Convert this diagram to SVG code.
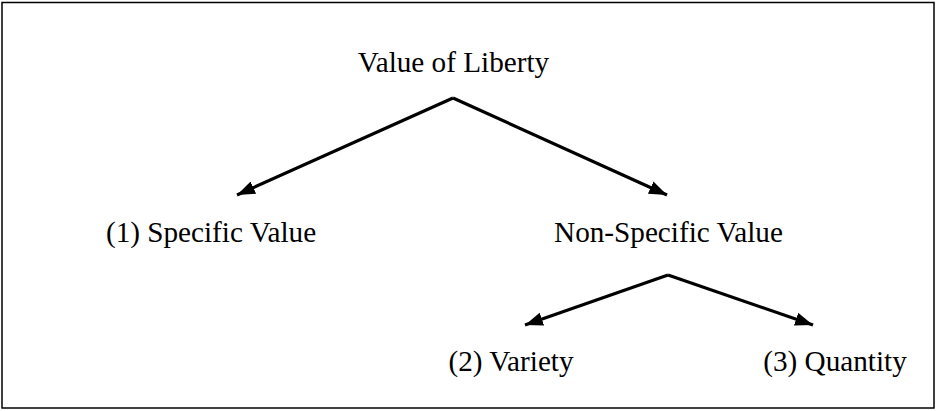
<svg xmlns="http://www.w3.org/2000/svg" width="936" height="411" viewBox="0 0 936 411">
<defs>
<style>
text{font-family:"Liberation Serif","Times New Roman",serif;font-size:29.2px;fill:#000;text-anchor:middle}
.edge{stroke:#000;stroke-width:3.2;fill:none}
</style>
<marker id="ah" viewBox="0 0 10 10" refX="10" refY="5" markerWidth="5.6" markerHeight="4.2" markerUnits="strokeWidth" orient="auto" preserveAspectRatio="none">
<path d="M0,0 L10,5 L0,10 z" fill="#000"/>
</marker>
</defs>
<rect x="2" y="2.5" width="932" height="405.5" fill="#fff" stroke="#000" stroke-width="1.5"/>
<g id="connectors">
<path class="edge" d="M453,98 L237,195" marker-end="url(#ah)"/>
<path class="edge" d="M453,98 L667,195" marker-end="url(#ah)"/>
<path class="edge" d="M668,275 L525,325" marker-end="url(#ah)"/>
<path class="edge" d="M668,275 L813,325" marker-end="url(#ah)"/>
</g>
<g id="root"><text x="453.5" y="72">Value of Liberty</text></g>
<g id="specific"><text x="211" y="242">(1) Specific Value</text></g>
<g id="nonspecific"><text x="668.5" y="242">Non-Specific Value</text></g>
<g id="variety"><text x="511" y="371">(2) Variety</text></g>
<g id="quantity"><text x="835" y="371">(3) Quantity</text></g>
</svg>
